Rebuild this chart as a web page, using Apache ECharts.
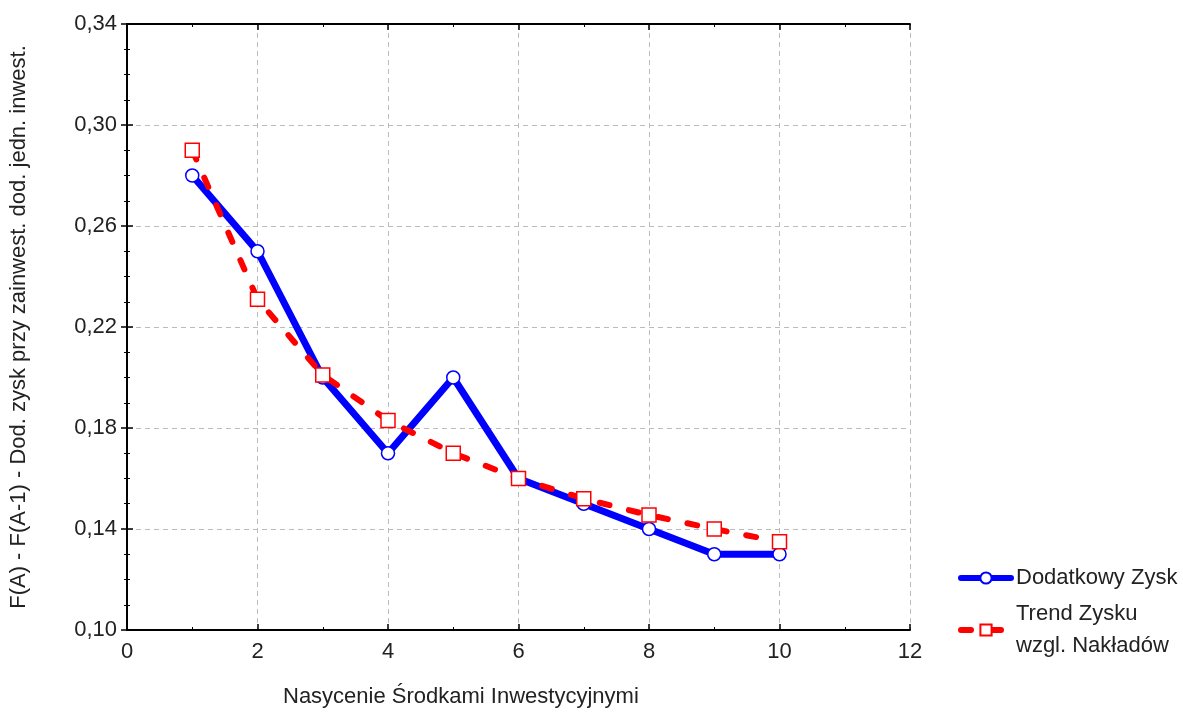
<!DOCTYPE html>
<html><head><meta charset="utf-8">
<script src="https://cdn.jsdelivr.net/npm/echarts@6/dist/echarts.min.js"></script>
<style>html,body{margin:0;padding:0;background:#fff}#c{width:1183px;height:712px}</style>
</head><body><div id="c"></div>
<script>
const xValues = [1,2,3,4,5,6,7,8,9,10];
const dodatkowyZysk = [0.28,0.25,0.20,0.17,0.20,0.16,0.15,0.14,0.13,0.13];
const trendZysku = [0.290,0.231,0.201,0.183,0.170,0.160,0.152,0.1455,0.140,0.135];
const seriesNames = ['Dodatkowy Zysk','Trend Zysku\nwzgl. Nakładów'];
const xAxisName = 'Nasycenie Środkami Inwestycyjnymi';
const yAxisName = 'F(A) - F(A-1) - Dod. zysk przy zainwest. dod. jedn. inwest.';

const font = '"Liberation Sans", Arial, sans-serif';
const chart = echarts.init(document.getElementById('c'));
const axisLine = {show:true, lineStyle:{color:'#000', width:2}};
const tick = {show:true, inside:true, length:6, lineStyle:{color:'#000', width:1.5}};
const minor = (n)=>({show:true, splitNumber:n, length:3, lineStyle:{color:'#000', width:1}});
const grid = {left:127, right:273, top:24, bottom:82};
chart.setOption({
  animation:false,
  backgroundColor:'#fff',
  grid: grid,
  legend: {
    orient:'vertical', left:953, top:557, itemWidth:50, itemHeight:14, itemGap:4,
    textStyle:{fontFamily:font, fontSize:22, color:'#222', lineHeight:32},
    lineStyle:{width:6, cap:'round'},
    data: seriesNames
  },
  graphic: [{
    type:'text', left:283, top:686,
    style:{text:xAxisName, fontFamily:font, fontSize:22, fill:'#222'}
  }],
  xAxis: [{
    type:'value', min:0, max:12, interval:2, position:'bottom',
    axisLine:axisLine, axisTick:tick, minorTick:minor(2),
    axisLabel:{fontFamily:font, fontSize:22, color:'#222', margin:11},
    splitLine:{show:true, lineStyle:{color:'#bbb', type:[5,4], width:1}}
  },{
    type:'value', min:0, max:12, interval:2, position:'top',
    axisLine:axisLine, axisTick:tick, minorTick:minor(2),
    axisLabel:{show:false}, splitLine:{show:false}
  }],
  yAxis: [{
    type:'value', min:0.10, max:0.34, interval:0.04, position:'left',
    name:yAxisName, nameLocation:'middle', nameGap:97, nameRotate:90,
    nameTextStyle:{fontFamily:font, fontSize:22, color:'#222'},
    axisLine:axisLine, axisTick:tick, minorTick:minor(4),
    axisLabel:{fontFamily:font, fontSize:22, color:'#222', margin:10,
      formatter:v=>v.toFixed(2).replace('.',',')},
    splitLine:{show:true, lineStyle:{color:'#bbb', type:[5,4], width:1}}
  },{
    type:'value', min:0.10, max:0.34, interval:0.04, position:'right',
    axisLine:axisLine, axisTick:tick, minorTick:minor(4),
    axisLabel:{show:false}, splitLine:{show:false}
  }],
  series: [{
    name: seriesNames[0], type:'line',
    data: xValues.map((x,i)=>[x, dodatkowyZysk[i]]),
    symbol:'circle', symbolSize:13,
    itemStyle:{color:'#fff', borderColor:'#0000ff', borderWidth:1.5},
    lineStyle:{color:'#0000ff', width:7, cap:'round'},
    color:'#0000ff', z:2
  },{
    name: seriesNames[1], type:'line',
    data: xValues.map((x,i)=>[x, trendZysku[i]]),
    symbol:'rect', symbolSize:14,
    itemStyle:{color:'#fff', borderColor:'#ff0000', borderWidth:1.5},
    lineStyle:{color:'#ff0000', width:6, type:[10,20], cap:'round'},
    color:'#ff0000', z:3
  }]
});
</script></body></html>
